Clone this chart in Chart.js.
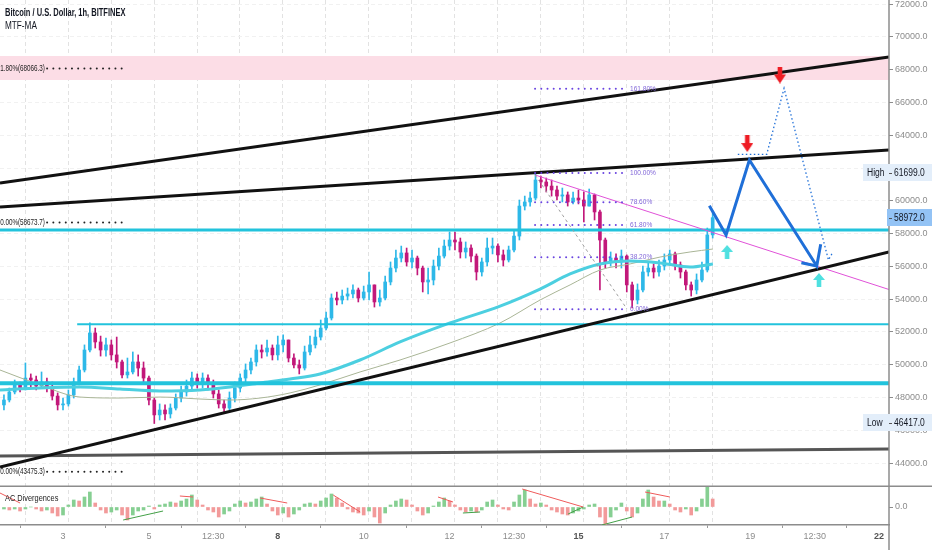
<!DOCTYPE html>
<html><head><meta charset="utf-8">
<script src="https://cdn.jsdelivr.net/npm/chart.js@4.4.1/dist/chart.umd.min.js"></script>
<style>
html,body{margin:0;padding:0;background:#fff;overflow:hidden}
#wrap{position:relative;width:932px;height:550px}
canvas{display:block}
.hdr{position:absolute;left:5px;font-family:"Liberation Sans",Arial,sans-serif;color:#131722;white-space:nowrap;line-height:12px;transform-origin:0 50%}
</style></head><body>
<div id="wrap"><canvas id="c" width="932" height="550"></canvas>
<div class="hdr" style="top:7px;font-size:10px;font-weight:bold;transform:scaleX(0.75)">Bitcoin / U.S. Dollar, 1h, BITFINEX</div>
<div class="hdr" style="top:20px;font-size:10px;transform:scaleX(0.82)">MTF-MA</div>
</div>
<script>
const FONT = '"Liberation Sans",Arial,sans-serif';

// ---- price data (3h candles) ----
const candleStartDay = 1.625, candleStepDay = 0.125;
const firstOpen = 47550;
const closes = [
47850,48340,48830,48580,49190,49070,48700,48950,48580,48090,
47550,47610,48160,48950,49680,50900,51940,51390,50900,51210,
50600,50170,49380,49560,50170,49800,49190,47850,46940,47240,
47000,47360,47970,48340,48700,49190,48950,49190,48830,48220,
47610,47360,47970,48580,49190,49680,50170,50900,50780,51020,
50600,51210,51510,50410,49990,49800,50780,51210,51690,52240,
52850,54070,53950,54190,54320,54560,54070,54440,54870,53830,
54070,55050,55900,56510,56820,56270,56510,55900,55050,55170,
56020,56630,57240,57610,57490,56880,57120,56630,55660,56270,
57120,57240,56700,56390,57000,57850,59680,59930,60170,61270,
61150,60900,60660,60290,60360,59930,60170,60050,59680,60360,
59320,57610,56270,56510,56270,56630,54870,53950,54560,55660,
55900,55660,56020,56390,56760,56090,55660,54870,54560,55170,
55780,57920,58972];
const highs = [
48160,48580,49070,48950,50110,49440,49310,49560,49190,48950,
48280,47970,48460,49190,49920,51210,52550,52240,51750,51630,
51510,51690,50290,50410,50780,50600,50170,49310,47970,47610,
47550,47610,48220,48700,49070,49560,49440,49500,49380,49070,
48460,47850,48340,48950,49440,50050,50410,51210,51210,51510,
51210,51750,51820,51510,50660,50290,51140,51750,52120,52730,
53220,54320,54440,54560,54680,54870,54680,54800,55660,54870,
54560,55410,56270,57000,57240,57120,57000,56630,56020,55900,
56390,57120,57610,58100,58100,57730,57490,57310,56760,56510,
57730,57730,57370,57000,57240,58220,60050,60290,60540,61699,
61510,61390,61270,60900,60780,60540,60540,60660,60540,60720,
60420,59440,57730,56880,56760,57000,56700,55050,54930,56020,
56270,56150,56390,56760,57000,56880,56270,55780,55050,55540,
56270,58340,59260];
const lows = [
47240,47730,48220,48340,48460,48580,48460,48580,48340,47850,
47240,47240,47480,47970,48770,49560,50780,51020,50530,50530,
50290,49800,49190,49190,49440,49310,48830,47550,46417,46630,
46630,46750,47240,47730,48090,48460,48580,48580,48460,47970,
47360,47120,47240,47730,48340,48950,49440,49920,50410,50530,
50290,50290,50780,50170,49800,49440,49680,50600,51020,51510,
52120,52730,53650,53710,53950,54070,53830,53950,53950,53520,
53580,53950,54870,55660,56270,56020,55900,55480,54440,54320,
54870,55780,56510,57000,57000,56510,56510,56270,55170,55410,
56020,56760,56270,56020,56270,56880,57610,59440,59680,60050,
60780,60540,60290,60050,59930,59680,59810,59810,58710,59680,
58830,54560,55900,56020,55900,55900,54440,53460,53710,54440,
55410,55290,55410,55780,56150,55780,55290,54560,54190,54320,
55050,55660,57730];

// ---- AC oscillator (same 3h bars) ----
const acValues = [
-100,-150,-100,-200,-100,0,-100,-200,-150,-300,
-450,-400,100,350,300,500,750,200,-150,-300,
-250,-150,-400,-650,-400,-200,-150,50,-100,100,
150,250,200,300,400,600,350,100,-150,-250,
-500,-350,-200,150,300,200,250,400,500,150,
-200,-400,-300,-500,-350,-150,150,200,150,300,
450,650,450,200,-100,-250,-300,-400,-200,-500,
-800,-300,100,300,400,350,100,-200,-400,-300,
50,250,450,300,100,-150,-250,-200,-250,-150,
250,350,100,-100,-150,250,600,850,400,150,
200,100,-150,-250,-350,-400,-300,-200,-100,100,
150,-500,-900,-500,-150,200,-200,-500,-300,400,
850,500,300,300,150,-150,-250,-100,-400,-200,
400,1000,400];
const divRed = [[1.533,700,2.0,200],[5.72,550,6.03,500],[7.59,450,8.22,200],[9.29,600,9.92,-250],[11.73,500,12.08,250],[13.69,900,15.11,0],[16.55,750,17.13,500]];
const divGreen = [[4.40,-650,5.33,-200],[12.31,-300,12.71,-250],[14.76,-350,15.11,0],[15.55,-900,16.25,-500]];

// ---- MTF moving averages ----
const maDays = [1.533,2.464,3.396,4.327,5.258,6.19,6.888,7.587,8.285,8.984,9.915,10.846,12.01,13.175,14.106,14.805,15.503,16.202,16.9,17.6,18.13];
const maFast = [48460,48580,48640,48520,48400,48460,48640,48890,49130,49440,50290,51390,52550,53580,54620,55540,56150,56330,56210,55960,56150];
const maSlow = [49680,48770,48030,47970,48030,47910,47850,47970,48280,48770,49560,50290,51330,52550,53950,54870,55780,56150,56570,56880,57060];

// ---- drawings ----
const edgeDays = [1.533, 22.23];
const channelUpper = [61087, 68773];
const channelMiddle = [59623, 63100];
const channelLower = [43763, 56878];
const baseLine = [44434, 44861];
const resistanceLevel = 58220;
const midSupportLevel = 52470, midSupportStart = 3.33;
const supportLevel = 48870;
const zoneTop = 68834, zoneBottom = 67370;
const trendDays = [13.99, 22.23], trendPrices = [61575, 54590];
const fibDays = [13.99, 16.13];
const fibPrices = [53384, 56560, 58523, 59920, 61699, 66838];
const fibLabels = ['0.00%', '38.20%', '61.80%', '78.60%', '100.00%', '161.80%'];
const fibDiagPrices = [61575, 53400];
const extPrices = [68066.3, 58673.7, 43475.3];
const extLabels = ['161.80%(68066.3)', '100.00%(58673.7)', '0.00%(43475.3)'];
const extLabelEndDay = 2.58, extDotDays = [2.63, 4.44];
const projDays = [18.048, 18.437, 18.98, 20.548, 20.64];
const projPrices = [59702, 57915, 62490, 56024, 57348];
const projTickDays = [20.19, 20.548], projTickPrices = [56225, 56024];
const altDays = [18.71, 19.384, 19.787, 20.82, 20.93];
const altPrices = [62838, 62838, 66864, 56390, 56896];
const sellArrowDays = [19.69, 18.93], sellArrowPrices = [67675, 63496];
const buyArrowDays = [18.46, 20.60], buyArrowPrices = [56878, 55170];

// ---- axes ----
const xMin = 1.533, xMax = 22.23, yMin = 42604, yMax = 72250;
const yTickValues = [44000,46000,48000,50000,52000,54000,56000,58000,60000,62000,64000,66000,68000,70000,72000];
const xTickDays = [3, 5, 6.5, 8, 10, 12, 13.5, 15, 17, 19, 20.5, 22];
const xTickLabels = ['3', '5', '12:30', '8', '10', '12', '12:30', '15', '17', '19', '12:30', '22'];
const xBoldLabels = ['8', '15', '22'];
const gridDays = [2.12,3.12,4.12,5.12,6.12,7.12,8.12,9.12,10.12,11.12,12.12,13.12,14.12,15.12,16.12,17.12,18.12];

// ---- build ----
const days = closes.map((_, i) => candleStartDay + i * candleStepDay);
const opens = closes.map((c, i) => i === 0 ? firstOpen : closes[i - 1]);
const UP = '#2db8e8', DN = '#c2187a';
const candleColors = closes.map((c, i) => c >= opens[i] ? UP : DN);
const acColors = acValues.map((v, i) => (i === 0 || v >= acValues[i - 1]) ? '#86cf92' : '#f29a9a');

function seg(xs, ys, color, width, extra) {
  return Object.assign({type: 'line', data: xs.map((x, i) => ({x: x, y: ys[i]})), borderColor: color,
    borderWidth: width, pointRadius: 0, pointHoverRadius: 0, fill: false, tension: 0,
    xAxisID: 'x', yAxisID: 'y', order: 20}, extra || {});
}
function arrowImg(color, up, h) {
  const c = document.createElement('canvas'); c.width = 12; c.height = h;
  const g = c.getContext('2d'); g.fillStyle = color; g.beginPath();
  const hh = Math.round(h * 0.5);
  if (up) { g.moveTo(6, 0); g.lineTo(12, hh); g.lineTo(8.3, hh); g.lineTo(8.3, h); g.lineTo(3.7, h); g.lineTo(3.7, hh); g.lineTo(0, hh); }
  else { g.moveTo(6, h); g.lineTo(12, h - hh); g.lineTo(8.3, h - hh); g.lineTo(8.3, 0); g.lineTo(3.7, 0); g.lineTo(3.7, h - hh); g.lineTo(0, h - hh); }
  g.closePath(); g.fill(); return c;
}
const dots = {borderDash: [0.01, 6.2], borderCapStyle: 'round'};
const datasets = [];
datasets.push(seg(edgeDays, [zoneTop, zoneTop], 'rgba(0,0,0,0)', 0, {fill: {value: zoneBottom}, backgroundColor: '#fcdde6', order: 100}));
datasets.push({type: 'bar', data: days.map((d, i) => ({x: d, y: [lows[i], highs[i]]})), backgroundColor: candleColors, barThickness: 1, grouped: false, order: 60, xAxisID: 'x', yAxisID: 'y'});
datasets.push({type: 'bar', data: days.map((d, i) => ({x: d, y: [opens[i], closes[i]]})), backgroundColor: candleColors, barThickness: 3, minBarLength: 1, grouped: false, order: 59, xAxisID: 'x', yAxisID: 'y'});
datasets.push(seg(maDays, maSlow, '#a9b596', 1, {tension: 0.4, cubicInterpolationMode: 'monotone', order: 45}));
datasets.push(seg(maDays, maFast, '#4ccfe0', 3, {tension: 0.4, cubicInterpolationMode: 'monotone', order: 44}));
datasets.push(seg(edgeDays, [resistanceLevel, resistanceLevel], '#22c3dc', 3, {order: 30}));
datasets.push(seg([midSupportStart, edgeDays[1]], [midSupportLevel, midSupportLevel], '#22c3dc', 2, {order: 30}));
datasets.push(seg(edgeDays, [supportLevel, supportLevel], '#22c3dc', 4, {order: 30}));
datasets.push(seg(edgeDays, baseLine, '#555555', 3, {order: 30}));
datasets.push(seg(edgeDays, channelUpper, '#111111', 3, {order: 25}));
datasets.push(seg(edgeDays, channelMiddle, '#111111', 3, {order: 25}));
datasets.push(seg(edgeDays, channelLower, '#111111', 3, {order: 25}));
datasets.push(seg(trendDays, trendPrices, '#e052d8', 1, {order: 26}));
fibPrices.forEach(p => datasets.push(seg(fibDays, [p, p], '#6a45e0', 2, Object.assign({order: 22}, dots))));
datasets.push(seg(fibDays, fibDiagPrices, '#a0a0a0', 1, {borderDash: [3, 3], order: 23}));
extPrices.forEach(p => datasets.push(seg(extDotDays, [p, p], '#222222', 2, Object.assign({order: 22}, dots))));
datasets.push(seg(projDays, projPrices, '#1f6fd8', 3, {order: 10, borderJoinStyle: 'miter'}));
datasets.push(seg(projTickDays, projTickPrices, '#1f6fd8', 3, {order: 10}));
datasets.push(seg(altDays, altPrices, '#1f6fd8', 1.3, {order: 11, borderDash: [1.5, 2.5]}));
datasets.push({type: 'line', showLine: false, data: sellArrowDays.map((d, i) => ({x: d, y: sellArrowPrices[i]})), pointStyle: arrowImg('#ee1c24', false, 17), pointRadius: 8, order: 5, xAxisID: 'x', yAxisID: 'y'});
datasets.push({type: 'line', showLine: false, data: buyArrowDays.map((d, i) => ({x: d, y: buyArrowPrices[i]})), pointStyle: arrowImg('#4fe0e0', true, 14), pointRadius: 8, order: 5, xAxisID: 'x', yAxisID: 'y'});
datasets.push({type: 'bar', data: days.map((d, i) => ({x: d, y: acValues[i]})), backgroundColor: acColors, barThickness: 3, grouped: false, order: 60, xAxisID: 'x', yAxisID: 'y2'});
divRed.forEach(s => datasets.push(seg([s[0], s[2]], [s[1], s[3]], '#ef5b5b', 1, {yAxisID: 'y2', order: 10})));
divGreen.forEach(s => datasets.push(seg([s[0], s[2]], [s[1], s[3]], '#43a047', 1, {yAxisID: 'y2', order: 10})));

function narrowText(ctx, text, px, py, align, sx) {
  ctx.save(); ctx.translate(px, py); ctx.scale(sx, 1); ctx.textAlign = align; ctx.fillText(text, 0, 0); ctx.restore();
}
const overlay = {
  id: 'overlay',
  afterDatasetsDraw(chart) {
    const ctx = chart.ctx, x = chart.scales.x, y = chart.scales.y, y2 = chart.scales.y2;
    ctx.save();
    ctx.textBaseline = 'middle';
    ctx.font = '8px ' + FONT; ctx.fillStyle = '#8066d8';
    fibPrices.forEach((p, i) => narrowText(ctx, fibLabels[i], x.getPixelForValue(fibDays[1]) + 3, y.getPixelForValue(p), 'left', 0.82));
    ctx.font = '9px ' + FONT; ctx.fillStyle = '#222';
    extPrices.forEach((p, i) => narrowText(ctx, extLabels[i], x.getPixelForValue(extLabelEndDay), y.getPixelForValue(p), 'right', 0.7));
    ctx.font = '9px ' + FONT; ctx.fillStyle = '#222';
    narrowText(ctx, 'AC Divergences', 5, y2.top + 13, 'left', 0.82);
    ctx.restore();
  },
  afterDraw(chart) {
    const ctx = chart.ctx, y = chart.scales.y, y2 = chart.scales.y2, area = chart.chartArea;
    ctx.save();
    ctx.strokeStyle = '#8c8c8c'; ctx.lineWidth = 1.5;
    ctx.beginPath(); ctx.moveTo(0, Math.round(y2.top) + 0.25); ctx.lineTo(chart.width, Math.round(y2.top) + 0.25); ctx.stroke();
    ctx.beginPath(); ctx.moveTo(area.right, 0); ctx.lineTo(area.right, chart.height); ctx.stroke();
    function tag(label, value, bg) {
      const py = Math.round(y.getPixelForValue(value));
      const left = label ? area.right - 26 : area.right - 2;
      ctx.fillStyle = bg; ctx.fillRect(left, py - 9, chart.width - left, 17);
      ctx.fillStyle = '#131722'; ctx.font = '10px ' + FONT; ctx.textBaseline = 'middle';
      if (label) narrowText(ctx, label, left + 4, py, 'left', 0.85);
      narrowText(ctx, value.toFixed(1), area.right + 5, py, 'left', 0.85);
      ctx.strokeStyle = '#555'; ctx.lineWidth = 1;
      ctx.beginPath(); ctx.moveTo(area.right, py + 0.5); ctx.lineTo(area.right + 3, py + 0.5); ctx.stroke();
    }
    tag('High', Math.max.apply(null, highs), '#e3eefa');
    tag('Low', Math.min.apply(null, lows), '#e3eefa');
    tag('', closes[closes.length - 1], '#93c3f5');
    ctx.restore();
  }
};
function noPadV(s) { s.width = 43; s.paddingTop = 0; s.paddingBottom = 0; }
function noPadH(s, h) { s.height = h; s.paddingLeft = 0; s.paddingRight = 0; }

new Chart(document.getElementById('c'), {
  type: 'line',
  data: {datasets: datasets},
  plugins: [overlay],
  options: {
    responsive: false, animation: false, events: [],
    layout: {padding: 0, autoPadding: false},
    plugins: {legend: {display: false}, tooltip: {enabled: false}},
    scales: {
      x: {type: 'linear', min: xMin, max: xMax, position: 'bottom', offset: false,
        afterBuildTicks: s => { s.ticks = xTickDays.map(v => ({value: v})); },
        afterFit: s => noPadH(s, 25),
        ticks: {autoSkip: false, maxRotation: 0, padding: 3,
          callback: (v, i) => xTickLabels[i],
          color: c => xBoldLabels.includes(xTickLabels[c.index]) ? '#555' : '#8c8c8c',
          font: c => ({family: FONT, size: 9, weight: xBoldLabels.includes(xTickLabels[c.index]) ? 'bold' : 'normal'})},
        grid: {drawOnChartArea: false, tickLength: 3, tickColor: '#999'},
        border: {display: true, color: '#8c8c8c', width: 1.5}},
      xg: {type: 'linear', min: xMin, max: xMax, position: 'top', offset: false,
        afterBuildTicks: s => { s.ticks = gridDays.map(v => ({value: v})); },
        afterFit: s => noPadH(s, 0),
        ticks: {display: false}, grid: {drawTicks: false, color: '#e2e2e2', lineWidth: 1},
        border: {display: false, dash: [4, 3]}},
      y: {type: 'linear', position: 'right', stack: 'pane', stackWeight: 486, min: yMin, max: yMax,
        afterBuildTicks: s => { s.ticks = yTickValues.map(v => ({value: v})); },
        afterFit: noPadV,
        ticks: {color: '#8c8c8c', padding: 2, font: {family: FONT, size: 9}, callback: v => v.toFixed(1)},
        grid: {color: '#f1f1f1', tickColor: '#8c8c8c', tickLength: 4},
        border: {display: false, dash: [4, 3]}},
      y2: {type: 'linear', position: 'right', stack: 'pane', stackWeight: 39, min: -900, max: 1050,
        afterBuildTicks: s => { s.ticks = [{value: 0}]; },
        afterFit: noPadV,
        ticks: {color: '#8c8c8c', padding: 2, font: {family: FONT, size: 9}, callback: v => v.toFixed(1)},
        grid: {drawOnChartArea: false, tickColor: '#8c8c8c', tickLength: 4},
        border: {display: false}}
    }
  }
});
</script>
</body></html>
